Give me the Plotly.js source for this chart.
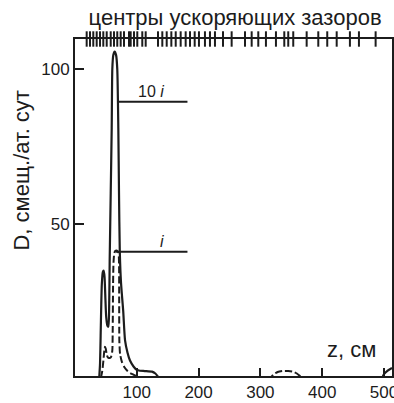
<!DOCTYPE html>
<html>
<head>
<meta charset="utf-8">
<script src="https://cdn.plot.ly/plotly-3.0.1.min.js"></script>
<style>html,body{margin:0;padding:0;background:#fff;}#chart{width:394px;height:403px;}</style>
</head>
<body>
<div id="chart"></div>
<script>
// ---- data ----
// positions z (cm) of accelerating-gap centres (top row of ticks)
const gapCenters = [18.9, 24.3, 29.6, 35.1, 40.5, 45.8, 51.3, 57.8, 63.1, 68.4, 73.9, 79.3, 87.4, 90.1, 95.5, 100.8, 108.9, 114.4,
  134.3, 141.3, 148.4, 155.9, 163.0, 171.0, 179.1, 186.1, 193.7, 200.6, 210.3, 218.4, 226.5, 239.5, 253.5, 275.1, 285.9, 296.6,
  309.0, 325.2, 338.7, 345.1, 353.2, 374.9, 393.7, 408.2, 423.5, 444.9, 459.5, 486.5];

// solid curve, labelled "10 i"
const zSolid = [39.3, 40.5, 41.5, 42.5, 43.5, 45, 46.4, 47.8, 49, 50.5, 52.5, 54, 55.2, 56.1, 57.8, 59.4, 60.4, 62, 64.2, 66.5, 68.4, 70.1, 71.2, 72.5, 74.5, 78, 81, 85, 89, 95, 100, 105, 113, 124.6, 130, 134.3, 137, 495, 500, 506, 513];
const dSolid = [0.7, 5, 14, 24, 31, 34.5, 35, 33, 27, 20, 17.2, 16.9, 22, 38, 60, 81, 100, 104.5, 105.6, 104.5, 100, 81, 60, 41, 31, 22, 12.5, 8.5, 6, 4, 3, 2.7, 2.6, 2.4, 1.8, 0.8, 0, 0, 1.6, 2.7, 3.6];

// dashed curve, labelled "i"
const zDashed = [42, 44, 46, 47.5, 48.5, 49.8, 51.2, 52.9, 55, 58, 60.3, 61, 61.6, 62.3, 63.5, 65, 68, 70.3, 71.3, 71.5, 71.8, 73, 76, 80, 85, 89, 94, 99, 103, 315, 318, 322, 328, 336, 345, 353, 359, 364, 367, 370];
const dDashed = [0.5, 2.5, 6, 9.3, 10.4, 9.8, 8, 7.1, 6.8, 7, 9, 15, 30, 37.5, 40.5, 41.3, 41.4, 40.8, 37, 25, 12, 8, 5.5, 3.8, 2.6, 2, 1.5, 1, 0, 0, 0.8, 1.6, 2.3, 2.6, 2.6, 2.4, 1.8, 1.0, 0.5, 0];

const xTickVals = [100, 200, 300, 400, 500];
const yTickVals = [50, 100];

const ink = '#1c1c1c';

const traces = [
  {x: zSolid, y: dSolid, type: 'scatter', mode: 'lines', name: '10 i',
   line: {color: ink, width: 2.2, shape: 'spline', smoothing: 0.6}, hoverinfo: 'skip'},
  {x: zDashed, y: dDashed, type: 'scatter', mode: 'lines', name: 'i',
   line: {color: ink, width: 2, dash: '7px,3px', shape: 'spline', smoothing: 0.6}, hoverinfo: 'skip'},
  {x: gapCenters, y: gapCenters.map(() => 1), yaxis: 'y2', type: 'scatter', mode: 'markers', name: 'gaps',
   cliponaxis: false, hoverinfo: 'skip',
   marker: {symbol: 'line-ns-open', size: 11, color: ink, line: {color: ink, width: 2}}}
];

const layout = {
  width: 394, height: 403,
  margin: {l: 75, r: 2, t: 39, b: 27, pad: 0},
  paper_bgcolor: '#ffffff', plot_bgcolor: '#ffffff',
  showlegend: false,
  font: {family: '"Liberation Sans", Arial, sans-serif', color: ink, size: 17},
  title: {text: 'центры ускоряющих зазоров', font: {size: 22, color: ink},
          xref: 'paper', x: 0.505, xanchor: 'center', yref: 'container', y: 0.957, yanchor: 'middle'},
  xaxis: {range: [0, 513], tickvals: xTickVals, ticks: 'inside', ticklen: 8, tickwidth: 2, tickcolor: ink,
          showline: true, linewidth: 2, linecolor: ink, mirror: true, showgrid: false, zeroline: false,
          ticklabeloverflow: 'allow',
          tickfont: {size: 17, color: ink}, fixedrange: true},
  yaxis: {range: [1, 109.7], tickvals: yTickVals, ticks: 'inside', ticklen: 9, tickwidth: 2, tickcolor: ink,
          showline: true, linewidth: 2, linecolor: ink, mirror: true, showgrid: false, zeroline: false,
          tickfont: {size: 17, color: ink}, fixedrange: true},
  yaxis2: {overlaying: 'y', range: [0, 1], visible: false, fixedrange: true},
  shapes: [
    {type: 'line', xref: 'x', yref: 'y', x0: 69.5, x1: 182, y0: 89.5, y1: 89.5, line: {color: ink, width: 2}},
    {type: 'line', xref: 'x', yref: 'y', x0: 66, x1: 182, y0: 41.1, y1: 41.1, line: {color: ink, width: 2}}
  ],
  annotations: [
    {text: '10 <i>i</i>', xref: 'x', yref: 'y', x: 123, y: 89.5, xanchor: 'center', yanchor: 'bottom',
     showarrow: false, font: {size: 16, color: ink}},
    {text: '<i>i</i>', xref: 'x', yref: 'y', x: 140, y: 41.1, xanchor: 'center', yanchor: 'bottom',
     showarrow: false, font: {size: 16, color: ink}},
    {text: 'z, см', xref: 'x', yref: 'y', x: 447, y: 9.7, xanchor: 'center', yanchor: 'middle',
     showarrow: false, font: {size: 22, color: ink}},
    {text: 'D, смещ./ат. сут', xref: 'paper', yref: 'paper', x: -0.17, y: 0.61, xanchor: 'center', yanchor: 'middle',
     textangle: -90, showarrow: false, font: {size: 22, color: ink}}
  ]
};

Plotly.newPlot('chart', traces, layout, {staticPlot: true, displayModeBar: false});
</script>
</body>
</html>
